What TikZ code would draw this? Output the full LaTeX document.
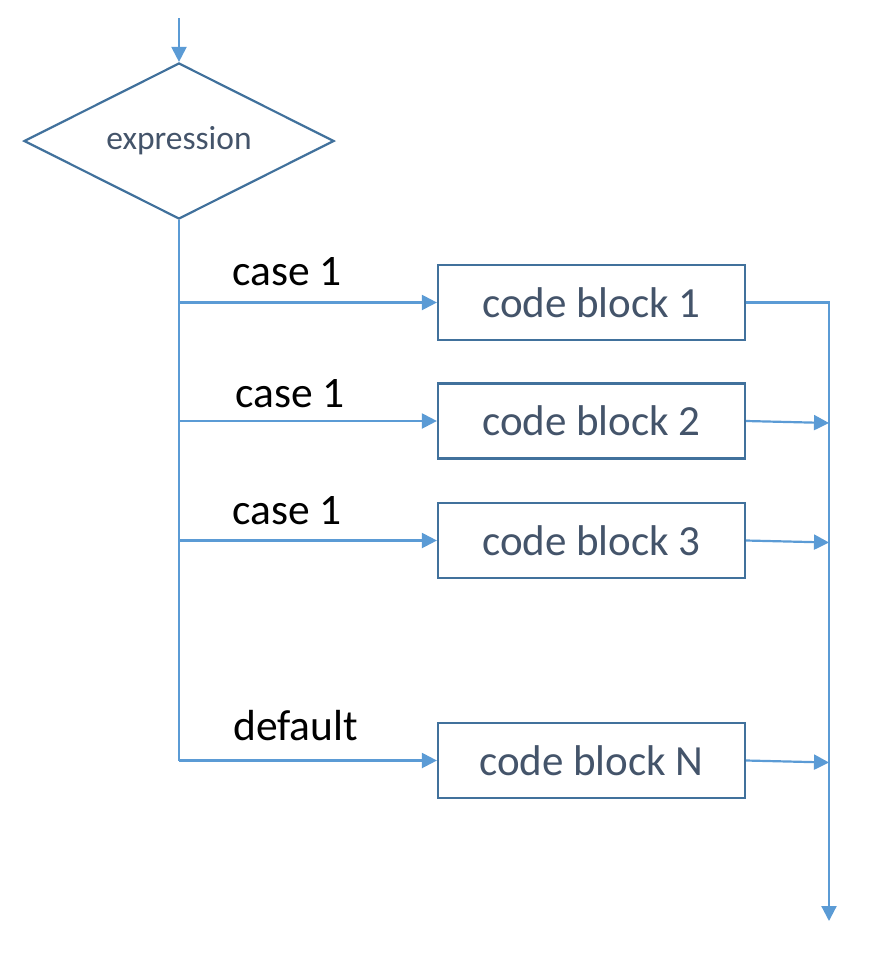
\documentclass[tikz,border=0pt]{standalone}
\usepackage{fontspec}
\setmainfont{Carlito}
\usetikzlibrary{shapes.geometric,arrows.meta}
\definecolor{boxline}{HTML}{41719C}
\definecolor{arrowline}{HTML}{5B9BD5}
\definecolor{boxtext}{HTML}{44546A}
\tikzset{
  codebox/.style={draw=boxline,line width=2.2pt,minimum width=307pt,minimum height=75pt,inner sep=0pt,text=boxtext,font=\fontsize{43}{50}\selectfont},
  decision/.style={diamond,aspect=2,draw=boxline,line width=2.2pt,minimum width=310pt,minimum height=156pt,inner sep=0pt,text=boxtext,font=\fontsize{33.5}{40}\selectfont},
  flow/.style={draw=arrowline,line width=2.2pt},
  flowarrow/.style={flow,-{Triangle[length=15pt,width=15pt]}},
  caselabel/.style={anchor=base west,inner sep=0pt,text=black,font=\fontsize{43.5}{52}\selectfont}
}
\begin{document}
\begin{tikzpicture}[x=1pt,y=-1pt]
\useasboundingbox (0,0) rectangle (896,972);
\node[decision] (expr) at (179,141) {expression};
\coordinate (start) at (179,18);
\node[codebox] (b1) at (591.5,302.5) {code block 1};
\node[codebox] (b2) at (591.5,421) {code block 2};
\node[codebox] (b3) at (591.5,540.5) {code block 3};
\node[codebox] (bN) at (591.5,760.5) {code block N};
\coordinate (j1) at (179,302.5);
\coordinate (j2) at (179,421);
\coordinate (j3) at (179,540.5);
\coordinate (jN) at (179,760.5);
\coordinate (r1) at (829,302.5);
\coordinate (r2) at (829,423);
\coordinate (r3) at (829,542.5);
\coordinate (rN) at (829,762.5);
\coordinate (end) at (829,921);
\node[caselabel] (l1) at (232,285) {case 1};
\node[caselabel] (l2) at (235,407) {case 1};
\node[caselabel] (l3) at (232,524) {case 1};
\node[caselabel] (lN) at (233,740) {default};
\draw[flowarrow] (start) -- (expr.north);
\draw[flow] (expr.south) -- (jN);
\draw[flowarrow] (j1) -- (b1.west);
\draw[flowarrow] (j2) -- (b2.west);
\draw[flowarrow] (j3) -- (b3.west);
\draw[flowarrow] (jN) -- (bN.west);
\draw[flowarrow] (b1.east) -- (r1) -- (end);
\draw[flowarrow] (b2.east) -- (r2);
\draw[flowarrow] (b3.east) -- (r3);
\draw[flowarrow] (bN.east) -- (rN);
\end{tikzpicture}
\end{document}
